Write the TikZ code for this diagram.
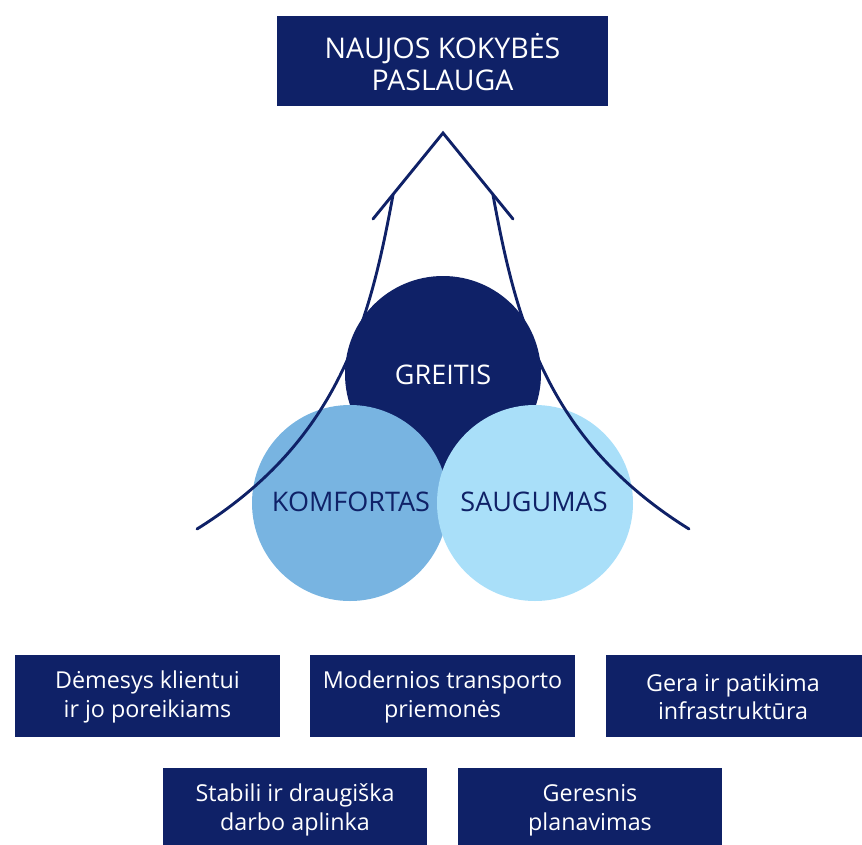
\documentclass[tikz,border=0pt]{standalone}
\usepackage{fontspec}
\setmainfont{Open Sans}
\definecolor{navy}{HTML}{0F2167}
\definecolor{midblue}{HTML}{78B4E1}
\definecolor{lightblue}{HTML}{A9DFF9}
\begin{document}
\begin{tikzpicture}[x=1pt,y=-1pt,
  navybox/.style={fill=navy,draw=none,text=white,align=center,inner sep=0pt},
  smalltext/.style={font=\fontsize{23.3}{28.5}\selectfont},
  bigtext/.style={font=\fontsize{28.5}{32}\selectfont},
  circtext/.style={font=\fontsize{27}{32}\selectfont},
  arrowline/.style={draw=navy,line width=2.9pt,line cap=round,line join=miter}]
\useasboundingbox (0,0) rectangle (862,844);
\clip (0,0) rectangle (862,844);
% top box
\fill[navy] (277,16) rectangle (608,106);
\node[navybox,bigtext] (top) at (442.5,62) {NAUJOS KOKYBĖS\\PASLAUGA};
% circles
\fill[navy] (443,374) circle (98);
\fill[midblue] (350,503) circle (98);
\fill[lightblue] (535,503) circle (98);
\node[text=white,circtext] (gr) at (443,375) {GREITIS};
\node[text=navy,circtext] (ko) at (351,502) {KOMFORTAS};
\node[text=navy,circtext] (sa) at (534,502) {SAUGUMAS};
% arrow
\coordinate (lb) at (197,529);
\coordinate (lt) at (393,195);
\coordinate (rb) at (689,529);
\coordinate (rt) at (493,195);
\coordinate (apex) at (443,133);
\coordinate (hl) at (373,219);
\coordinate (hr) at (513,219);
\draw[arrowline] (lb) .. controls (340,440) and (370,320) .. (lt);
\draw[arrowline] (rb) .. controls (546,440) and (516,320) .. (rt);
\draw[arrowline] (hl) -- (apex) -- (hr);
% bottom boxes
\fill[navy] (15,655) rectangle (280,737);
\node[navybox,smalltext] (b1) at (147.5,697) {Dėmesys klientui\\ir jo poreikiams};
\fill[navy] (310,655) rectangle (575,737);
\node[navybox,smalltext] (b2) at (442.5,697) {Modernios transporto\\priemonės};
\fill[navy] (606,655) rectangle (871,737);
\node[navybox,smalltext] (b3) at (733,697) {Gera ir patikima\\infrastruktūra};
\fill[navy] (163,768) rectangle (427,848);
\node[navybox,smalltext] (b4) at (295,810) {Stabili ir draugiška\\darbo aplinka};
\fill[navy] (458,768) rectangle (722,848);
\node[navybox,smalltext] (b5) at (590,810) {Geresnis\\planavimas};
\end{tikzpicture}
\end{document}
